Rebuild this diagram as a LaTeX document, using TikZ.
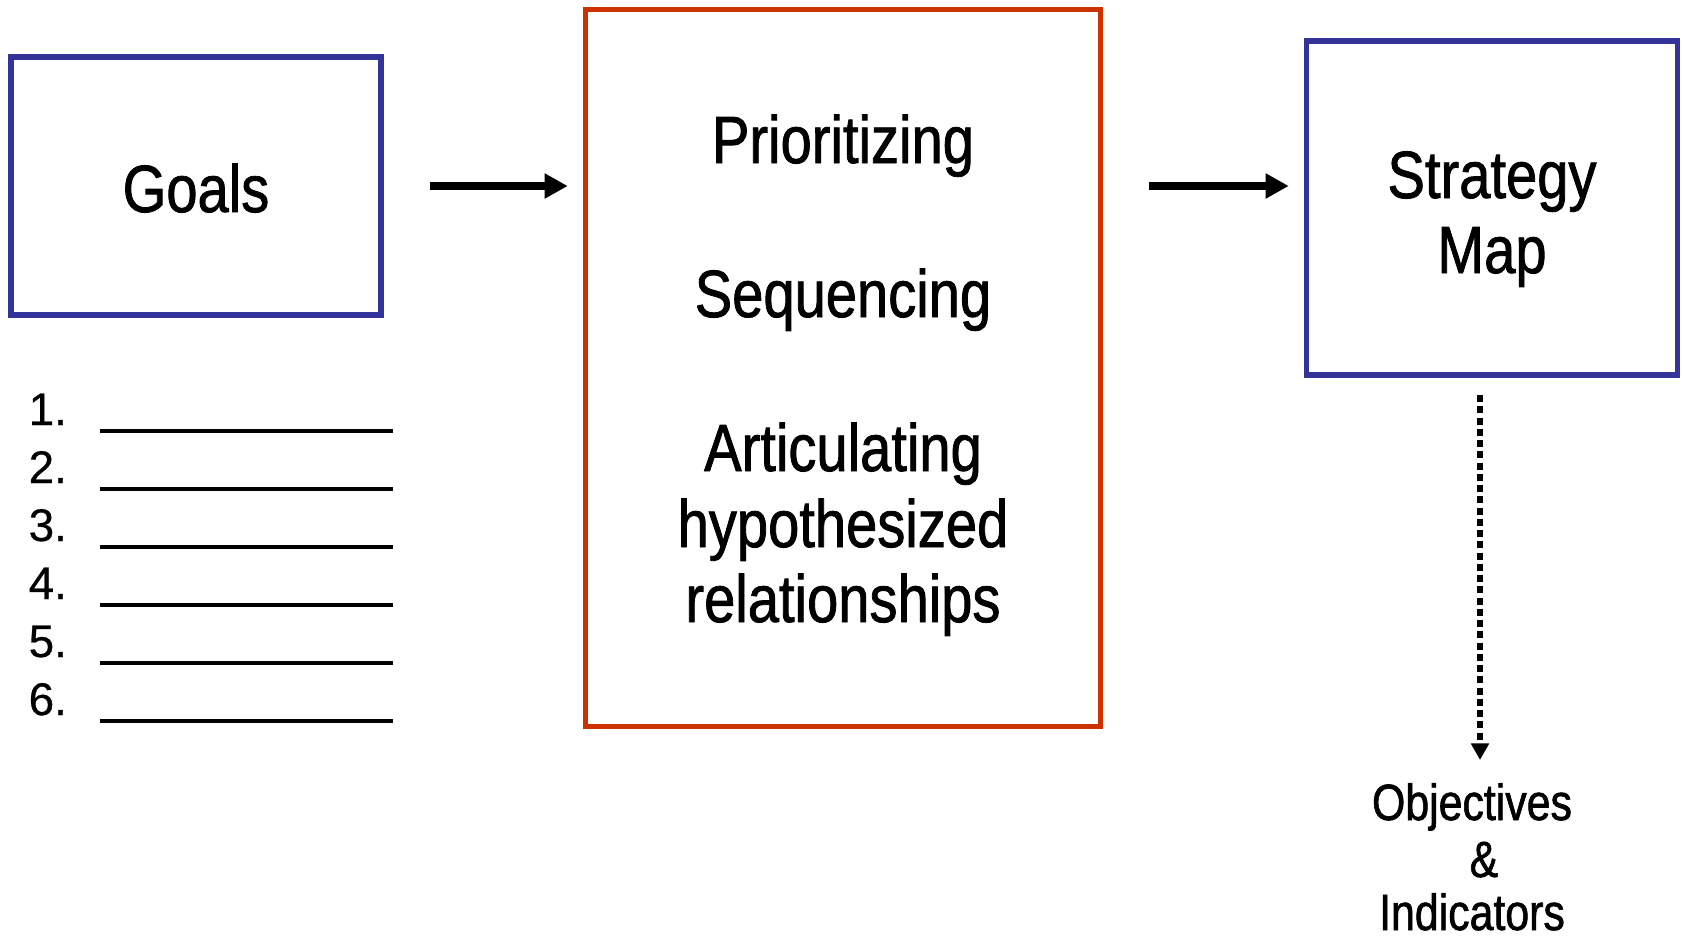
\documentclass[tikz,border=0pt]{standalone}
\usepackage{fontspec}
\setmainfont{Liberation Sans}
\newfontfamily\narrowfont{Liberation Sans}[FakeStretch=0.84, FakeBold=1.2]
\newfontfamily\numfont{Liberation Sans}[FakeBold=0.6]
\usetikzlibrary{arrows.meta}

\definecolor{boxblue}{RGB}{51,51,153}
\definecolor{boxred}{RGB}{204,51,0}

\tikzset{
	framebox/.style={draw, line width=1.5pt, inner sep=0pt},
	bigtext/.style={font=\narrowfont\fontsize{19}{21.5}\selectfont, anchor=base, inner sep=0pt},
	smalltext/.style={font=\narrowfont\fontsize{14.5}{16}\selectfont, anchor=base, inner sep=0pt},
	flow/.style={-{Triangle[length=6.6pt,width=6.8pt]}, line width=2pt, shorten <=0.46cm, shorten >=0.15cm},
}

\begin{document}
\begin{tikzpicture}[x=0.01cm, y=-0.01cm]
		\useasboundingbox (0,0) rectangle (1684,936);
		
		% the three boxes
		\node[framebox, draw=boxblue, minimum width=3.7cm, minimum height=2.58cm] (goals) at (196,186) {};
		\node[framebox, draw=boxred, minimum width=5.15cm, minimum height=7.17cm] (mid) at (843,368) {};
		\node[framebox, draw=boxblue, minimum width=3.71cm, minimum height=3.34cm] (strat) at (1492,208) {};
		
		\node[bigtext] (goalstxt) at (196,212) {Goals};
		
		\node[bigtext] (prio) at (843,163) {Prioritizing};
		\node[bigtext] (seq) at (843,317) {Sequencing};
		\node[bigtext] (art) at (843,471) {Articulating};
		\node[bigtext] (hyp) at (843,547) {hypothesized};
		\node[bigtext] (rel) at (843,622) {relationships};
		
		\node[bigtext] (strattxt) at (1492,198) {Strategy};
		\node[bigtext] (maptxt) at (1492,273) {Map};
		
		% numbered goal list
		\foreach \i in {1,...,6} {
			\node[anchor=base west, inner sep=0pt, font=\numfont\fontsize{13}{15}\selectfont] (num\i) at (28,425+58*\i-58) {\i.};
			\draw[line width=1pt] (100,431+58*\i-58) -- (393,431+58*\i-58);
		}
		
		% objectives below the strategy map
		\node[smalltext] (obj) at (1472,820) {Objectives};
		\node[smalltext] (amp) at (1484,877) {\&};
		\node[smalltext] (ind) at (1472,930) {Indicators};
		
		\draw[flow] (goals.east) -- (goals.east -| mid.west);
		\draw[flow] (mid.east |- goals.east) -- (strat.west |- goals.east);
		
		\coordinate (dtop) at (1480,375);
		\draw[line width=1.9pt, dash pattern=on 2pt off 1.2pt, shorten <=0.2cm, -{Triangle[length=4.7pt,width=4.9pt]}] (dtop) -- (dtop |- 0,760);
	\end{tikzpicture}
\end{document}
